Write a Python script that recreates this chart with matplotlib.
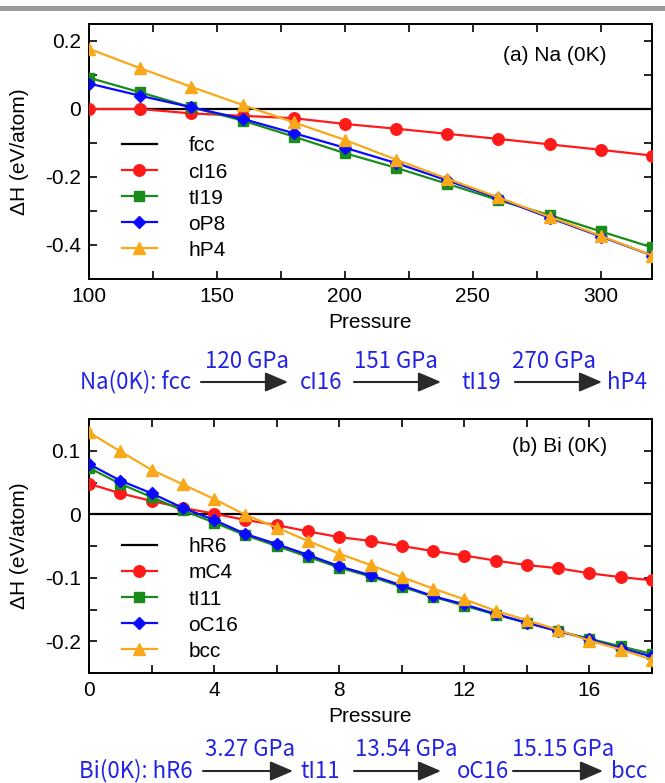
"""Enthalpy vs pressure for Na and Bi phases, with transition sequences."""
import matplotlib

matplotlib.use("Agg")
import matplotlib.pyplot as plt
from matplotlib.patches import FancyArrowPatch, Rectangle
from matplotlib.ticker import MultipleLocator

# ---- Na (0K) data ----
na_pressure = [100, 120, 140, 160, 180, 200, 220, 240, 260, 280, 300, 320]
na_fcc = [0, 0, 0, 0, 0, 0, 0, 0, 0, 0, 0, 0]
na_ci16 = [0.0, 0.0, -0.013, -0.02, -0.027, -0.044, -0.058, -0.073, -0.088, -0.104, -0.12, -0.137]
na_ti19 = [0.092, 0.049, 0.005, -0.034, -0.081, -0.13, -0.173, -0.22, -0.268, -0.312, -0.36, -0.407]
na_op8 = [0.075, 0.039, 0.005, -0.029, -0.071, -0.114, -0.159, -0.21, -0.263, -0.32, -0.375, -0.431]
na_hp4 = [0.177, 0.12, 0.065, 0.012, -0.039, -0.091, -0.149, -0.205, -0.26, -0.317, -0.373, -0.431]
na_labels = ["fcc", "cI16", "tI19", "oP8", "hP4"]

# ---- Bi (0K) data ----
bi_pressure = list(range(0, 19))
bi_hr6 = [0] * 19
bi_mc4 = [0.048, 0.033, 0.021, 0.01, 0.001, -0.009, -0.017, -0.027, -0.036, -0.042,
          -0.05, -0.058, -0.065, -0.073, -0.08, -0.085, -0.093, -0.099, -0.104]
bi_ti11 = [0.073, 0.048, 0.027, 0.006, -0.013, -0.033, -0.05, -0.067, -0.084, -0.098,
           -0.114, -0.13, -0.144, -0.158, -0.171, -0.184, -0.196, -0.208, -0.22]
bi_oc16 = [0.079, 0.053, 0.033, 0.01, -0.009, -0.031, -0.047, -0.064, -0.082, -0.096,
           -0.112, -0.129, -0.142, -0.157, -0.171, -0.184, -0.197, -0.211, -0.224]
bi_bcc = [0.129, 0.099, 0.07, 0.047, 0.024, -0.001, -0.021, -0.042, -0.062, -0.08,
          -0.099, -0.117, -0.134, -0.152, -0.167, -0.182, -0.199, -0.213, -0.229]
bi_labels = ["hR6", "mC4", "tI11", "oC16", "bcc"]

# ---- transition sequences ----
na_steps = ["Na(0K): fcc", "cI16", "tI19", "hP4"]
na_press = ["120 GPa", "151 GPa", "270 GPa"]
bi_steps = ["Bi(0K): hR6", "tI11", "oC16", "bcc"]
bi_press = ["3.27 GPa", "13.54 GPa", "15.15 GPa"]

COLORS = ["black", "#ff1a1a", "#1a8c1a", "#0a0aff", "#f8a818"]
MARKERS = [None, "o", "s", "D", "^"]
MSIZES = [0, 8.3, 6.6, 5.8, 8]
TEXT_BLUE = "#2323e6"
SEQ_FONT = ["Noto Sans CJK SC", "DejaVu Sans"]

W, H = 665, 783
plt.rcParams["font.family"] = ["Liberation Sans", "DejaVu Sans"]
plt.rcParams["font.size"] = 15


def fx(px):
    return px / W


def fy(py):
    return 1 - py / H


def draw_panel(ax, x, series, labels, title, title_y, legend_top):
    for vals, lab, c, m, ms in zip(series, labels, COLORS, MARKERS, MSIZES):
        if m is None:
            ax.plot(x, vals, color=c, lw=1.6, label=lab, zorder=2)
        else:
            ax.plot(x, vals, color=c, lw=1.6, marker=m, ms=ms, mec=c, label=lab, zorder=3)
    ax.tick_params(which="both", direction="in", top=True, right=True,
                   length=6, width=1.2, labelsize=15, pad=6)
    for s in ax.spines.values():
        s.set_linewidth(1.4)
    ax.set_xlabel("Pressure", fontsize=15, labelpad=5)
    ax.set_ylabel("\u0394H (eV/atom)", fontsize=15, labelpad=11)
    ax.text(0.92, title_y, title, transform=ax.transAxes, ha="right", va="center", fontsize=15)
    ax.legend(loc="upper left", bbox_to_anchor=(0.058, legend_top), frameon=False,
              borderaxespad=0, borderpad=0, handlelength=1.7, handletextpad=1.5,
              labelspacing=0.34, fontsize=15)


def draw_sequence(steps, press, y_text, y_press, xs_text, arrows, xs_press):
    for s, xpos in zip(steps, xs_text):
        fig.text(fx(xpos), fy(y_text), s, color=TEXT_BLUE, ha="center", va="center",
                 fontsize=16, family=SEQ_FONT)
    for (x0, x1) in arrows:
        fig.add_artist(FancyArrowPatch(
            (fx(x0), fy(y_text)), (fx(x1), fy(y_text)), transform=fig.transFigure,
            arrowstyle="-|>,head_length=0.7,head_width=0.3", mutation_scale=20,
            shrinkA=0, shrinkB=0, color="#2a2a2a", lw=1.5))
    for p, xpos in zip(press, xs_press):
        fig.text(fx(xpos), fy(y_press), p, color=TEXT_BLUE, ha="center", va="center",
                 fontsize=16, family=SEQ_FONT)


fig = plt.figure(figsize=(6.65, 7.83), dpi=100)

# thin grey bar at the very top
fig.add_artist(Rectangle((0, fy(11)), 1, 4.5 / H, transform=fig.transFigure,
                         color="#9a9a9a", lw=0))

ax1 = fig.add_axes([fx(89), fy(279), fx(563), 255 / H])
draw_panel(ax1, na_pressure, [na_fcc, na_ci16, na_ti19, na_op8, na_hp4], na_labels,
           "(a) Na (0K)", 0.878, 0.559)
ax1.set_xlim(100, 320)
ax1.set_ylim(-0.5, 0.25)
ax1.xaxis.set_major_locator(MultipleLocator(50))
ax1.xaxis.set_minor_locator(MultipleLocator(25))
ax1.yaxis.set_major_locator(MultipleLocator(0.2))
ax1.yaxis.set_minor_locator(MultipleLocator(0.1))
ax1.yaxis.set_major_formatter(lambda v, pos: "0" if abs(v) < 1e-9 else f"{v:.1f}")

ax2 = fig.add_axes([fx(89), fy(673), fx(563), 254 / H])
draw_panel(ax2, bi_pressure, [bi_hr6, bi_mc4, bi_ti11, bi_oc16, bi_bcc], bi_labels,
           "(b) Bi (0K)", 0.89, 0.534)
ax2.set_xlim(0, 18)
ax2.set_ylim(-0.25, 0.15)
ax2.xaxis.set_major_locator(MultipleLocator(4))
ax2.xaxis.set_minor_locator(MultipleLocator(2))
ax2.yaxis.set_major_locator(MultipleLocator(0.1))
ax2.yaxis.set_minor_locator(MultipleLocator(0.05))
ax2.yaxis.set_major_formatter(lambda v, pos: "0" if abs(v) < 1e-9 else f"{v:.1f}")

draw_sequence(na_steps, na_press, 382, 362, [135.5, 321, 481, 627.5],
              [(201, 288), (354, 441), (515, 602)], [247, 396, 554])
draw_sequence(bi_steps, bi_press, 771, 750, [136, 320, 482.5, 629],
              [(203, 293), (354, 441), (513, 603)], [250, 406, 563])

fig.savefig("out.png", dpi=100)
